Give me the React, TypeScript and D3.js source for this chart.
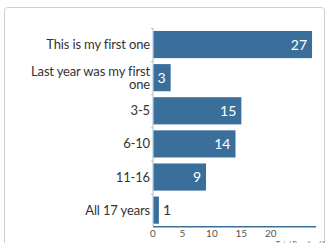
import * as d3 from 'd3';
import React, { useRef, useEffect } from 'react';

const categories = ['This is my first one', 'Last year was my first one', '3-5', '6-10', '11-16', 'All 17 years'];
const values = [27, 3, 15, 14, 9, 1];
const xTicks = [0, 5, 10, 15, 20];
const totalLabel = 'Total Results: 69';

const width = 325;
const height = 243;
const barColor = '#3b6f9b';
const font = 'Lato, "Open Sans", sans-serif';

// label lines split the way the original wraps them
const wrap = (s: string) => (s.length > 20 && s.indexOf(' one') > 0 ? [s.replace(/ one$/, ''), 'one'] : [s]);

function App() {
    const ref = useRef<SVGSVGElement>(null);

    useEffect(() => {
        const svg = d3.select(ref.current);
        svg.selectAll('*').remove();

        const margin = { top: 28, left: 153, right: 10, bottom: 16.3 };

        // card outline
        svg.append('rect')
            .attr('x', 4.5).attr('y', 7.5)
            .attr('width', 320).attr('height', 260)
            .attr('rx', 3)
            .attr('fill', '#fff')
            .attr('stroke', '#cfcfcf');

        const x = d3.scaleLinear().domain([0, 27.5]).range([margin.left, width - margin.right]);
        const y = d3.scaleBand<string>()
            .domain(categories)
            .range([margin.top, height - margin.bottom])
            .paddingInner(0.18)
            .paddingOuter(0.09);

        const g = svg.append('g');

        // y axis line and band-edge ticks
        g.append('line')
            .attr('x1', x(0)).attr('x2', x(0))
            .attr('y1', margin.top).attr('y2', height - margin.bottom)
            .attr('stroke', '#a9c0d4').attr('stroke-width', 1);
        g.selectAll('.ytick')
            .data(categories)
            .enter().append('line')
            .attr('class', 'ytick')
            .attr('x1', x(0) - 2).attr('x2', x(0))
            .attr('y1', d => (y(d) as number) - y.step() * 0.09 + 0.5)
            .attr('y2', d => (y(d) as number) - y.step() * 0.09 + 0.5)
            .attr('stroke', '#a9c0d4');

        // bars
        g.selectAll('.bar')
            .data(values)
            .enter().append('rect')
            .attr('class', 'bar')
            .attr('x', x(0) + 0.5)
            .attr('y', (d, i) => y(categories[i]) as number)
            .attr('width', d => x(d) - x(0) - 0.5)
            .attr('height', y.bandwidth())
            .attr('fill', barColor);

        // category labels
        categories.forEach((c, i) => {
            const lines = wrap(c);
            const cy = (y(c) as number) + y.bandwidth() / 2;
            const t = g.append('text')
                .attr('x', x(0) - 3)
                .attr('text-anchor', 'end')
                .style('font-family', font)
                .style('font-size', '13px')
                .style('letter-spacing', '-0.15px')
                .attr('fill', '#333');
            lines.forEach((l, k) => {
                t.append('tspan')
                    .attr('x', x(0) - 3)
                    .attr('y', cy + 4.5 + (k - (lines.length - 1) / 2) * 13)
                    .text(l);
            });
        });

        // value labels
        g.selectAll('.val')
            .data(values)
            .enter().append('text')
            .attr('class', 'val')
            .attr('x', d => (d >= 3 ? x(d) - 5 : x(d) + 4))
            .attr('y', (d, i) => (y(categories[i]) as number) + y.bandwidth() / 2 + 5)
            .attr('text-anchor', d => (d >= 3 ? 'end' : 'start'))
            .style('font-family', font)
            .style('font-size', '14px')
            .attr('fill', d => (d >= 3 ? '#fff' : '#333'))
            .text(d => d);

        // x axis
        const axisY = height - margin.bottom;
        g.append('line')
            .attr('x1', x(0)).attr('x2', x.range()[1] + 1)
            .attr('y1', axisY).attr('y2', axisY)
            .attr('stroke', barColor).attr('stroke-width', 1.5);
        g.selectAll('.xtick')
            .data(xTicks)
            .enter().append('text')
            .attr('class', 'xtick')
            .attr('x', d => x(d))
            .attr('y', axisY + 10)
            .attr('text-anchor', 'middle')
            .style('font-family', font)
            .style('font-size', '10px')
            .attr('fill', '#555')
            .text(d => d);

        svg.append('text')
            .attr('x', 276).attr('y', 246.5)
            .style('font-family', font)
            .style('font-size', '7px')
            .attr('fill', '#666')
            .text(totalLabel);
    }, []);

    return (
        <svg ref={ref} width={width} height={height}
            style={{ position: 'absolute', left: 0, top: 0, background: '#fff' }} />
    );
}

export default App;
